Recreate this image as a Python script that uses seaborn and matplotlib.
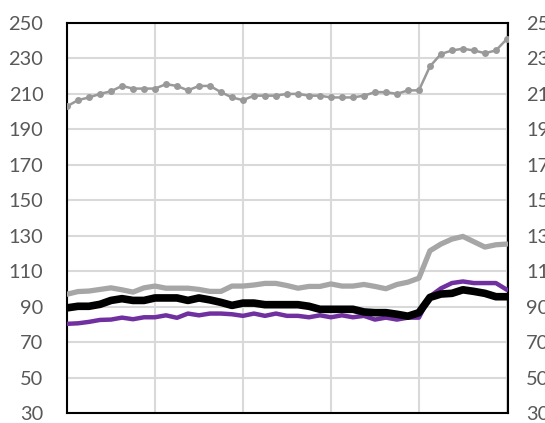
import numpy as np
import pandas as pd
import matplotlib
matplotlib.use("Agg")
import matplotlib.pyplot as plt
import seaborn as sns

# Values per period (41 periods)
periods = list(range(41))
upper_gray = [203, 206.5, 208, 210, 211.5, 214.5, 213, 213, 213, 215.5,
              214.5, 212, 214.5, 214.5, 211, 208, 206.5, 209, 209, 209,
              210, 210, 209, 209, 208, 208, 208, 209, 211, 211,
              210, 212, 212, 225.5, 232.5, 234.5, 235.5, 234.5, 233, 234.5, 241]
light_gray = [97, 98.5, 98.8, 99.7, 100.6, 99.5, 98.2, 100.6, 101.6, 100.4,
              100.4, 100.4, 99.7, 98.6, 98.6, 101.6, 101.6, 102.2, 103.1, 103.1,
              101.9, 100.4, 101.4, 101.4, 102.8, 101.6, 101.6, 102.5, 101.4, 100.1,
              102.5, 103.8, 106.1, 121.5, 125.3, 128.1, 129.6, 126.6, 123.6, 124.9, 125.3]
black = [89.3, 90.2, 90.2, 91.3, 93.5, 94.5, 93.5, 93.5, 94.9, 94.9,
         94.9, 93.5, 94.9, 93.8, 92.4, 90.7, 92, 92, 91.1, 91.1,
         91.1, 91.1, 90.2, 88.5, 88.5, 88.5, 88.5, 87, 86.6, 86.6,
         85.7, 84.6, 86.6, 95.2, 97.1, 97.5, 99.5, 98.6, 97.5, 95.6, 95.6]
purple = [80.3, 80.6, 81.4, 82.5, 82.7, 83.8, 82.9, 84, 84, 85.1,
          83.7, 86.1, 85.1, 86.1, 86.1, 85.7, 84.8, 86.1, 84.8, 86.1,
          84.8, 84.8, 84, 85.1, 84, 85.1, 84, 84.8, 82.7, 83.8,
          82.7, 83.8, 83.8, 95.8, 100.3, 103.3, 104.2, 103.3, 103.3, 103.3, 99.5]
y_ticks = list(range(30, 251, 20))

sns.set_theme(style="white")
plt.rcParams["font.family"] = ["Lato", "DejaVu Sans"]

fig = plt.figure(figsize=(5.45, 4.23), dpi=100)
ax = fig.add_axes([67 / 545, 1 - 413 / 423, (508 - 67) / 545, (413 - 23) / 423])

ax.set_xlim(0, 40.1)
ax.set_ylim(30, 250)
ax.set_yticks(y_ticks)
ax.set_xticks(range(0, 41, 8))
ax.set_xticklabels([])
ax.grid(True, color="#d9d9d9", linewidth=1.5)
ax.set_axisbelow(True)

sns.lineplot(x=periods, y=upper_gray, ax=ax, color="#999999", linewidth=1.8,
             marker="o", markersize=5, markeredgewidth=0, zorder=3)
sns.lineplot(x=periods, y=light_gray, ax=ax, color="#a6a6a6", linewidth=3.8, zorder=3)
sns.lineplot(x=periods, y=purple, ax=ax, color="#7030a0", linewidth=3.2, zorder=4)
sns.lineplot(x=periods, y=black, ax=ax, color="#000000", linewidth=5.5, zorder=5)

for s in ax.spines.values():
    s.set_visible(True)
    s.set_color("black")
    s.set_linewidth(1.5)

ax.tick_params(axis="both", length=0)
ax.tick_params(axis="y", labelsize=14.4, labelcolor="#595959", pad=17)
ax.set_xlabel("")
ax.set_ylabel("")

ax2 = ax.twinx()
ax2.set_ylim(30, 250)
ax2.set_yticks(y_ticks)
ax2.tick_params(axis="y", length=0, labelsize=14.4, labelcolor="#595959", pad=13)
for s in ax2.spines.values():
    s.set_visible(False)

fig.savefig("out.png", dpi=100)
